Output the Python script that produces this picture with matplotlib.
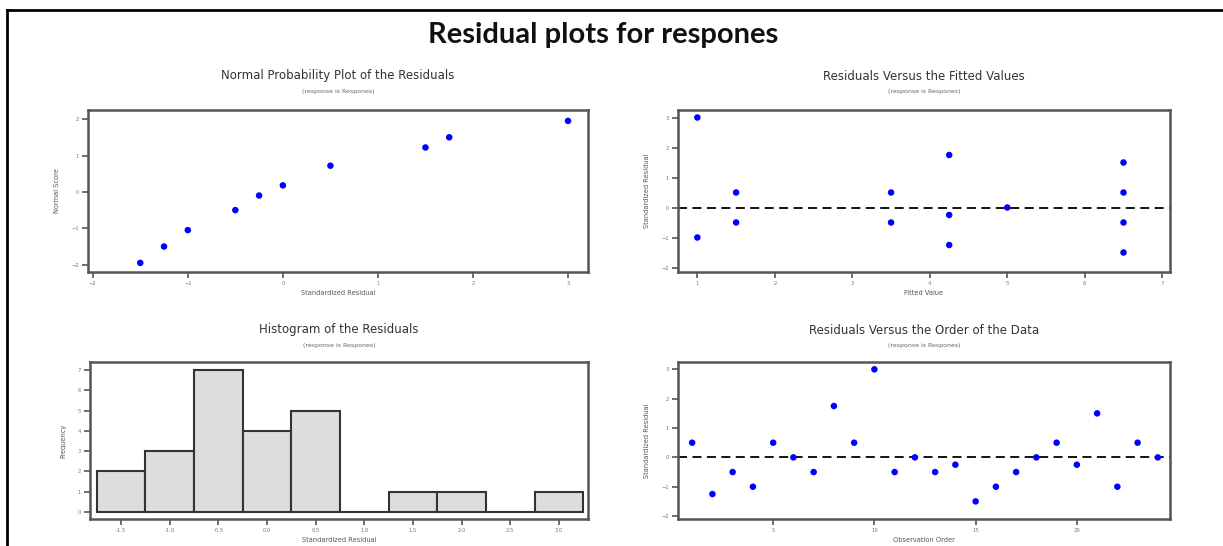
"""Residual plots (4 panels) reproduced with matplotlib."""
import matplotlib

matplotlib.use("Agg")
import matplotlib.pyplot as plt
from matplotlib.lines import Line2D

# normal probability plot
npp_resid = [-1.5, -1.25, -1.0, -0.5, -0.25, 0.0, 0.5, 1.5, 1.75, 3.0]
npp_score = [-1.95, -1.5, -1.05, -0.5, -0.1, 0.18, 0.72, 1.22, 1.5, 1.95]

# residuals vs fitted values
fitted = [1, 1, 1.5, 1.5, 3.5, 3.5, 4.25, 4.25, 4.25, 5, 6.5, 6.5, 6.5, 6.5]
fitted_resid = [3, -1, 0.5, -0.5, 0.5, -0.5, 1.75, -0.25, -1.25, 0, 1.5, 0.5, -0.5, -1.5]

# histogram
hist_centers = [-1.5, -1.0, -0.5, 0.0, 0.5, 1.0, 1.5, 2.0, 2.5, 3.0]
hist_counts = [2, 3, 7, 4, 5, 0, 1, 1, 0, 1]
hist_ticks = ["-1.5", "-1.0", "-0.5", "0.0", "0.5", "1.0", "1.5", "2.0", "2.5", "3.0"]

# residuals vs order
order_resid = [0.5, -1.25, -0.5, -1, 0.5, 0, -0.5, 1.75, 0.5, 3, -0.5, 0,
               -0.5, -0.25, -1.5, -1, -0.5, 0, 0.5, -0.25, 1.5, -1, 0.5, 0]
order_obs = list(range(1, len(order_resid) + 1))

SUBTITLE = "(response is Respones)"
FRAME = "#555555"
TEXT = "#555555"

fig = plt.figure(figsize=(12.23, 5.46), dpi=100)
W, H = 1223, 546


def px_axes(x0, y0, x1, y1):
    return fig.add_axes([x0 / W, 1 - y1 / H, (x1 - x0) / W, (y1 - y0) / H])


def style(ax, title, xlabel, ylabel, title_y):
    for s in ax.spines.values():
        s.set_color(FRAME)
        s.set_linewidth(1.8)
    ax.tick_params(direction="out", length=4, width=1.2, color=FRAME,
                   labelsize=3.8, labelcolor="#777777", pad=2.5)
    ax.set_xlabel(xlabel, fontsize=4.8, color=TEXT, labelpad=3)
    ax.set_ylabel(ylabel, fontsize=4.8, color=TEXT, labelpad=8)
    bb = ax.get_position()
    xc = (bb.x0 + bb.x1) / 2
    fig.text(xc, 1 - title_y / H, title, ha="center", va="center",
             fontsize=8.5, color="#333333")
    fig.text(xc, 1 - (title_y + 15) / H, SUBTITLE, ha="center", va="center",
             fontsize=4.5, color="#666666")


dot = dict(s=22, color="#0000FF", edgecolor="none", zorder=3)

# top-left
ax1 = px_axes(88, 110, 588, 272)
ax1.scatter(npp_resid, npp_score, **dot)
ax1.set_xlim(-2.05, 3.21)
ax1.set_ylim(-2.2, 2.25)
ax1.set_xticks([-2, -1, 0, 1, 2, 3])
ax1.set_yticks([-2, -1, 0, 1, 2])
style(ax1, "Normal Probability Plot of the Residuals", "Standardized Residual",
      "Normal Score", 76)

# top-right
ax2 = px_axes(678, 110, 1170, 272)
ax2.scatter(fitted, fitted_resid, **dot)
ax2.axhline(0, color="black", linestyle=(0, (5, 3)), linewidth=1.3, zorder=2)
ax2.set_xlim(0.75, 7.1)
ax2.set_ylim(-2.15, 3.25)
ax2.set_xticks(range(1, 8))
ax2.set_yticks([-2, -1, 0, 1, 2, 3])
style(ax2, "Residuals Versus the Fitted Values", "Fitted Value",
      "Standardized Residual", 76)

# bottom-left
ax3 = px_axes(90, 362, 588, 519)
ax3.bar(hist_centers, hist_counts, width=0.5, color="#DDDDDD",
        edgecolor="#333333", linewidth=1.5)
ax3.set_xlim(-1.82, 3.3)
ax3.set_ylim(-0.35, 7.4)
ax3.set_xticks(hist_centers)
ax3.set_xticklabels(hist_ticks)
ax3.set_yticks(range(0, 8))
style(ax3, "Histogram of the Residuals", "Standardized Residual",
      "Frequency", 330)

# bottom-right
ax4 = px_axes(678, 362, 1170, 519)
ax4.scatter(order_obs, order_resid, **dot)
ax4.axhline(0, color="black", linestyle=(0, (5, 3)), linewidth=1.3, zorder=2)
ax4.set_xlim(0.3, 24.6)
ax4.set_ylim(-2.1, 3.25)
ax4.set_xticks([5, 10, 15, 20])
ax4.set_yticks([-2, -1, 0, 1, 2, 3])
style(ax4, "Residuals Versus the Order of the Data", "Observation Order",
      "Standardized Residual", 330)

# main title and page border
fig.text(0.493, 1 - 35 / H, "Residual plots for respones", ha="center",
         va="center", fontsize=21, fontweight="bold", color="#111111",
         family=["Lato", "DejaVu Sans"])
fig.add_artist(Line2D([7 / W, 7 / W], [0, 1 - 10 / H], transform=fig.transFigure,
                      color="black", linewidth=2))
fig.add_artist(Line2D([7 / W, 1], [1 - 10 / H, 1 - 10 / H], transform=fig.transFigure,
                      color="black", linewidth=2))

fig.savefig("out.png", dpi=100)
plt.close(fig)
